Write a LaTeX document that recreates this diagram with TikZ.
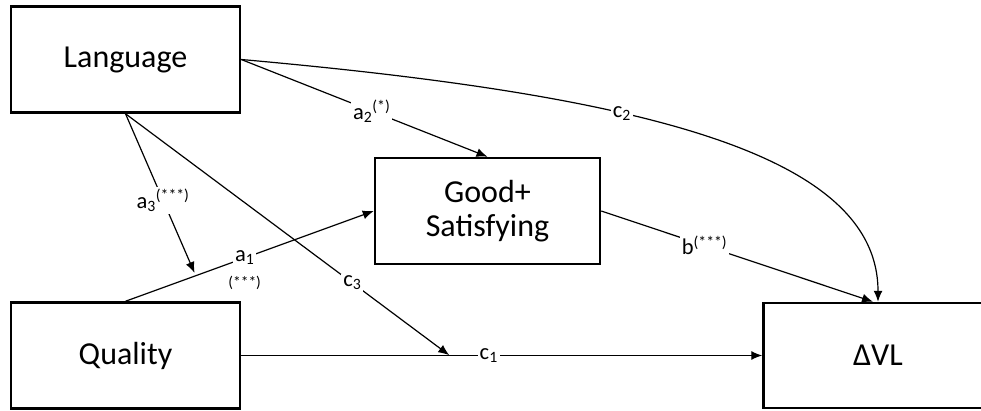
\documentclass[tikz,border=0pt]{standalone}
\usepackage{fontspec}
\setmainfont{Carlito}
\usetikzlibrary{arrows.meta}
\begin{document}
\begin{tikzpicture}[x=1pt,y=-1pt,
  box/.style={draw, line width=2.5pt, minimum width=229pt, minimum height=106pt, inner sep=0pt, font=\fontsize{32}{34}\selectfont, align=center},
  conn/.style={line width=1.2pt, -{Latex[length=11pt,width=9pt]}},
  lbl/.style={fill=white, inner sep=2pt, font=\fontsize{22.5}{24}\selectfont},
  small/.style={font=\fontsize{15.5}{16}\selectfont, inner sep=0pt}]
\useasboundingbox (0,0) rectangle (981,411);
\clip (0,0) rectangle (981,411);
\node[box] (lang) at (125.5,59.5) {Language};
\node[box] (qual) at (125.5,355.5) {Quality};
\node[box, minimum width=225pt] (good) at (487.5,211) {Good+\\Satisfying};
\node[box, minimum height=105pt] (dvl) at (878,355.5) {ΔVL};
% Quality -> Good
\draw[conn] (qual.north) -- node[lbl, pos=0.48, label={[small, label distance=8pt]below:(***)}] (la1) {a\textsubscript{1}} coordinate[pos=0.283] (qa) (good.west);
% Quality -> DVL
\draw[conn] (qual.east) -- node[lbl, pos=0.475] (lc1) {c\textsubscript{1}} coordinate[pos=0.40] (qd) (dvl.west);
% Language -> Good
\draw[conn] (lang.east) -- node[lbl, pos=0.53] (la2) {a\textsubscript{2}\textsuperscript{(*)}} (good.north);
% Language -> DVL curve
\draw[conn] (lang.east) .. controls (640,95) and (878,153) .. node[lbl, pos=0.38] (lc2) {c\textsubscript{2}} (dvl.north);
% Language -> a1 path (moderation)
\draw[conn, shorten >=3pt] (lang.south) -- node[lbl, pos=0.535] (la3) {a\textsubscript{3}\textsuperscript{(***)}} (qa);
% Language -> c1 path
\draw[conn, shorten >=0.5pt] (lang.south) -- node[lbl, pos=0.70] (lc3) {c\textsubscript{3}} (qd);
% Good -> DVL
\draw[conn] (good.east) -- node[lbl, pos=0.38] (lb) {b\textsuperscript{(***)}} ([xshift=-5pt]dvl.north);
\end{tikzpicture}
\end{document}
